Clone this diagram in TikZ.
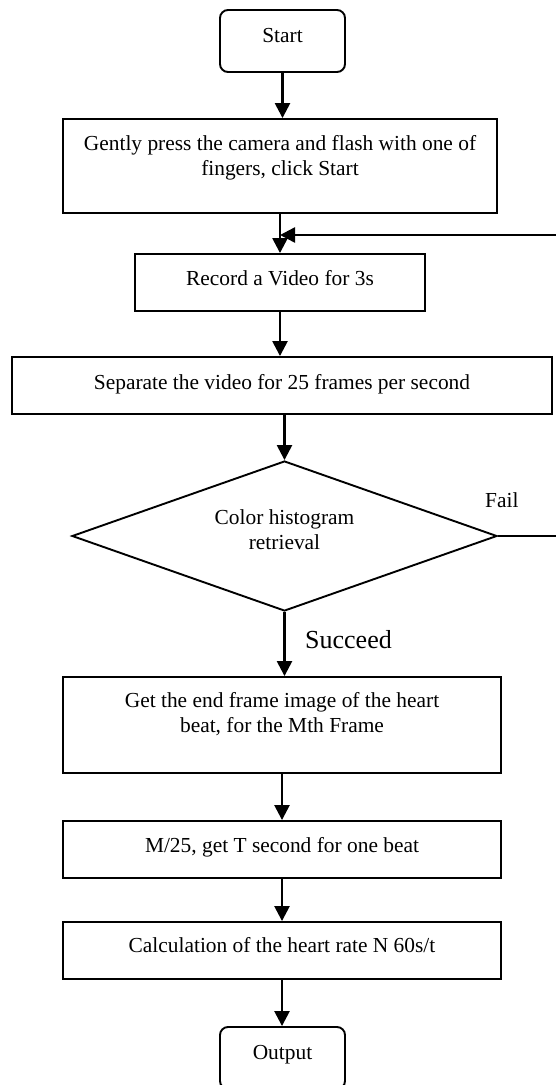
\documentclass[tikz,border=0pt]{standalone}
\usepackage{fontspec}
\setmainfont{Liberation Serif}
\usetikzlibrary{arrows.meta,shapes.geometric}

\begin{document}
\begin{tikzpicture}[x=1pt,y=-1pt,
  box/.style={draw,line width=1.9pt,inner sep=0pt},
  rbox/.style={box,rounded corners=8pt},
  txt/.style={font=\fontsize{21.4}{25.5}\selectfont,align=center,inner sep=0pt,anchor=base},
  txtml/.style={txt,anchor=north},
  flow/.style={line width=2.5pt,-{Triangle[length=15pt,width=15pt]}},
]
\useasboundingbox (0,0) rectangle (555,1085);

% process boxes
\node[rbox,minimum width=125pt,minimum height=62pt] (start) at (282.5,41) {};
\node[txt] (startT) at (282.5,42) {Start};

\node[box,minimum width=434pt,minimum height=94pt] (b2) at (280,166) {};
\node[txtml] (b2T) at (280,135) {Gently press the camera and flash with one of\\fingers, click Start};

\node[box,minimum width=290pt,minimum height=57pt] (b3) at (280,282.5) {};
\node[txt] (b3T) at (280,285) {Record a Video for 3s};

\node[box,minimum width=540pt,minimum height=57pt] (b4) at (282,385.5) {};
\node[txt] (b4T) at (282,389) {Separate the video for 25 frames per second};

\node[draw,diamond,line width=1.9pt,inner sep=0pt,minimum width=425pt,minimum height=150pt] (dia) at (284.5,536) {};
\node[txtml] (diaT) at (284.5,509) {Color histogram\\retrieval};

\node[box,minimum width=438pt,minimum height=96pt] (b5) at (282,725) {};
\node[txtml] (b5T) at (282,692) {Get the end frame image of the heart\\beat, for the Mth Frame};

\node[box,minimum width=438pt,minimum height=57pt] (b6) at (282,849.5) {};
\node[txt] (b6T) at (282,852) {M/25, get T second for one beat};

\node[box,minimum width=438pt,minimum height=57pt] (b7) at (282,950.5) {};
\node[txt] (b7T) at (282,952) {Calculation of the heart rate N 60s/t};

\node[rbox,minimum width=125pt,minimum height=62pt] (out) at (282.5,1058) {};
\node[txt] (outT) at (282.5,1059) {Output};

% branch labels
\node[txt,anchor=base west] (fail) at (485,507) {Fail};
\node[txt,anchor=base west,font=\fontsize{26}{30}\selectfont] (succ) at (305,648) {Succeed};

% connectors
\draw[flow] (start.south) -- (start.south |- b2.north);
\draw[flow] (b2.south) -- (b2.south |- b3.north);
\draw[flow] (b3.south) -- (b3.south |- b4.north);
\draw[flow] (b4.south -| dia.north) -- (dia.north);
\draw[flow] (dia.south) -- (dia.south |- b5.north);
\draw[flow] (b5.south) -- (b5.south |- b6.north);
\draw[flow] (b6.south) -- (b6.south |- b7.north);
\draw[flow] (b7.south) -- (b7.south |- out.north);

% retry loop on failure
\coordinate (fbR) at (560,536);
\coordinate (fbT) at (560,235);
\draw[flow] (dia.east) -- (fbR) -- (fbT) -- (fbT -| b2.south);
\end{tikzpicture}
\end{document}
